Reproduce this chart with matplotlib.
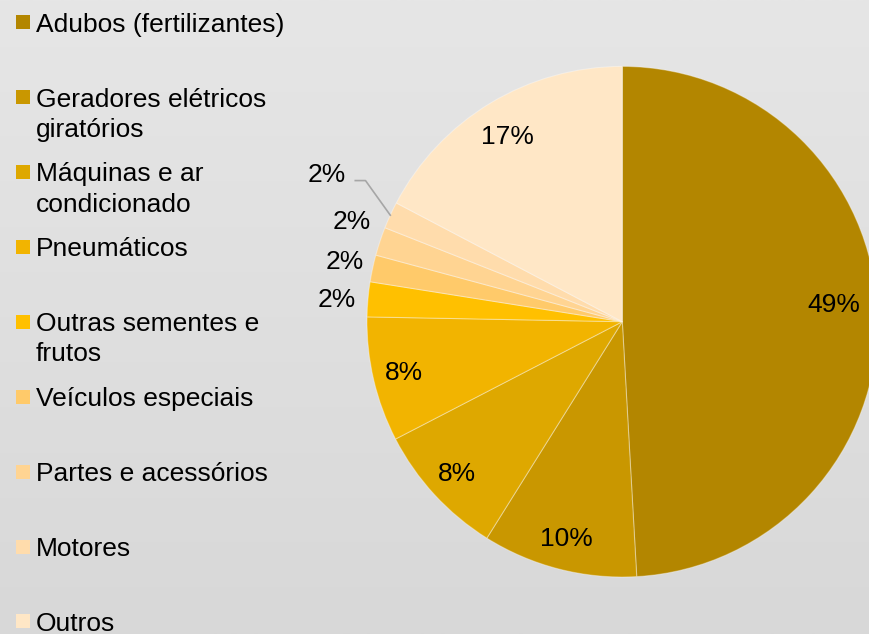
import matplotlib.pyplot as plt
import numpy as np
from matplotlib.patches import Rectangle

plt.rcParams['font.family'] = ['Liberation Sans', 'DejaVu Sans']

# categories, clockwise from 12 o'clock
categories = ['Adubos (fertilizantes)', 'Geradores elétricos\ngiratórios',
              'Máquinas e ar\ncondicionado', 'Pneumáticos',
              'Outras sementes e\nfrutos', 'Veículos especiais',
              'Partes e acessórios', 'Motores', 'Outros']
# slice sizes (%)
shares = [49.1, 9.8, 8.5, 7.9, 2.2, 1.7, 1.8, 1.7, 17.3]
# data labels as printed on the chart
pct_labels = ['49%', '10%', '8%', '8%', '2%', '2%', '2%', '2%', '17%']
colors = ['#b38600', '#c99700', '#dea800', '#f2b400', '#ffc000',
          '#ffca6a', '#ffd492', '#ffdcac', '#ffe7c6']

W, H = 870, 634
fig = plt.figure(figsize=(W / 100, H / 100), dpi=100)

# overlay axes in pixel units for background and legend
ov = fig.add_axes([0, 0, 1, 1], zorder=0)
ov.set_xlim(0, W)
ov.set_ylim(H, 0)
ov.axis('off')
grad = np.linspace(230, 216, 256).reshape(-1, 1) / 255.0
ov.imshow(np.dstack([grad, grad, grad]), extent=[0, W, H, 0], aspect='auto')

# legend, Excel style: fixed spacing per entry, wrapped lines below
leg_top, leg_step, line_gap = 22.2, 74.9, 30
for i, (name, col) in enumerate(zip(categories, colors)):
    y = leg_top + i * leg_step
    ov.add_patch(Rectangle((16, y - 7), 14, 14, facecolor=col, edgecolor='none'))
    for k, line in enumerate(name.split('\n')):
        ov.text(36, y + 9.5 + k * line_gap, line, fontsize=19,
                va='baseline', ha='left', color='black')

# pie
cx, cy, r = 622.3, 321.7, 255.3
ax = fig.add_axes([(cx - r) / W, (H - cy - r) / H, 2 * r / W, 2 * r / H], zorder=1)
wedges, _ = ax.pie(shares, colors=colors, startangle=90, counterclock=False,
                   wedgeprops=dict(edgecolor=(1, 1, 1, 0.35), linewidth=0.8))
ax.set_xlim(-1, 1)
ax.set_ylim(-1, 1)
ax.set_aspect('auto')
ax.axis('off')

label_r = [0.83, 0.88, 0.88, 0.88, 1.12, 1.11, 1.13, 1.29, 0.85]
label_nudge = [3.0, 0, 0, 0, 0.7, 0, -1.8, -1.7, 0.7]
for i, w in enumerate(wedges):
    mid = (w.theta1 + w.theta2) / 2
    a = np.deg2rad(mid + label_nudge[i])
    lx, ly = label_r[i] * np.cos(a), label_r[i] * np.sin(a)
    ax.text(lx, ly, pct_labels[i], fontsize=19, ha='center', va='center',
            clip_on=False)
    if label_r[i] > 1.2:
        am = np.deg2rad(mid)
        ex, ey = np.cos(am), np.sin(am)
        ax.plot([lx + 0.11, lx + 0.15, ex], [ly - 0.02, ly - 0.02, ey],
                color='#a6a6a6', lw=1.2, clip_on=False)

fig.savefig('out.png', dpi=100)
